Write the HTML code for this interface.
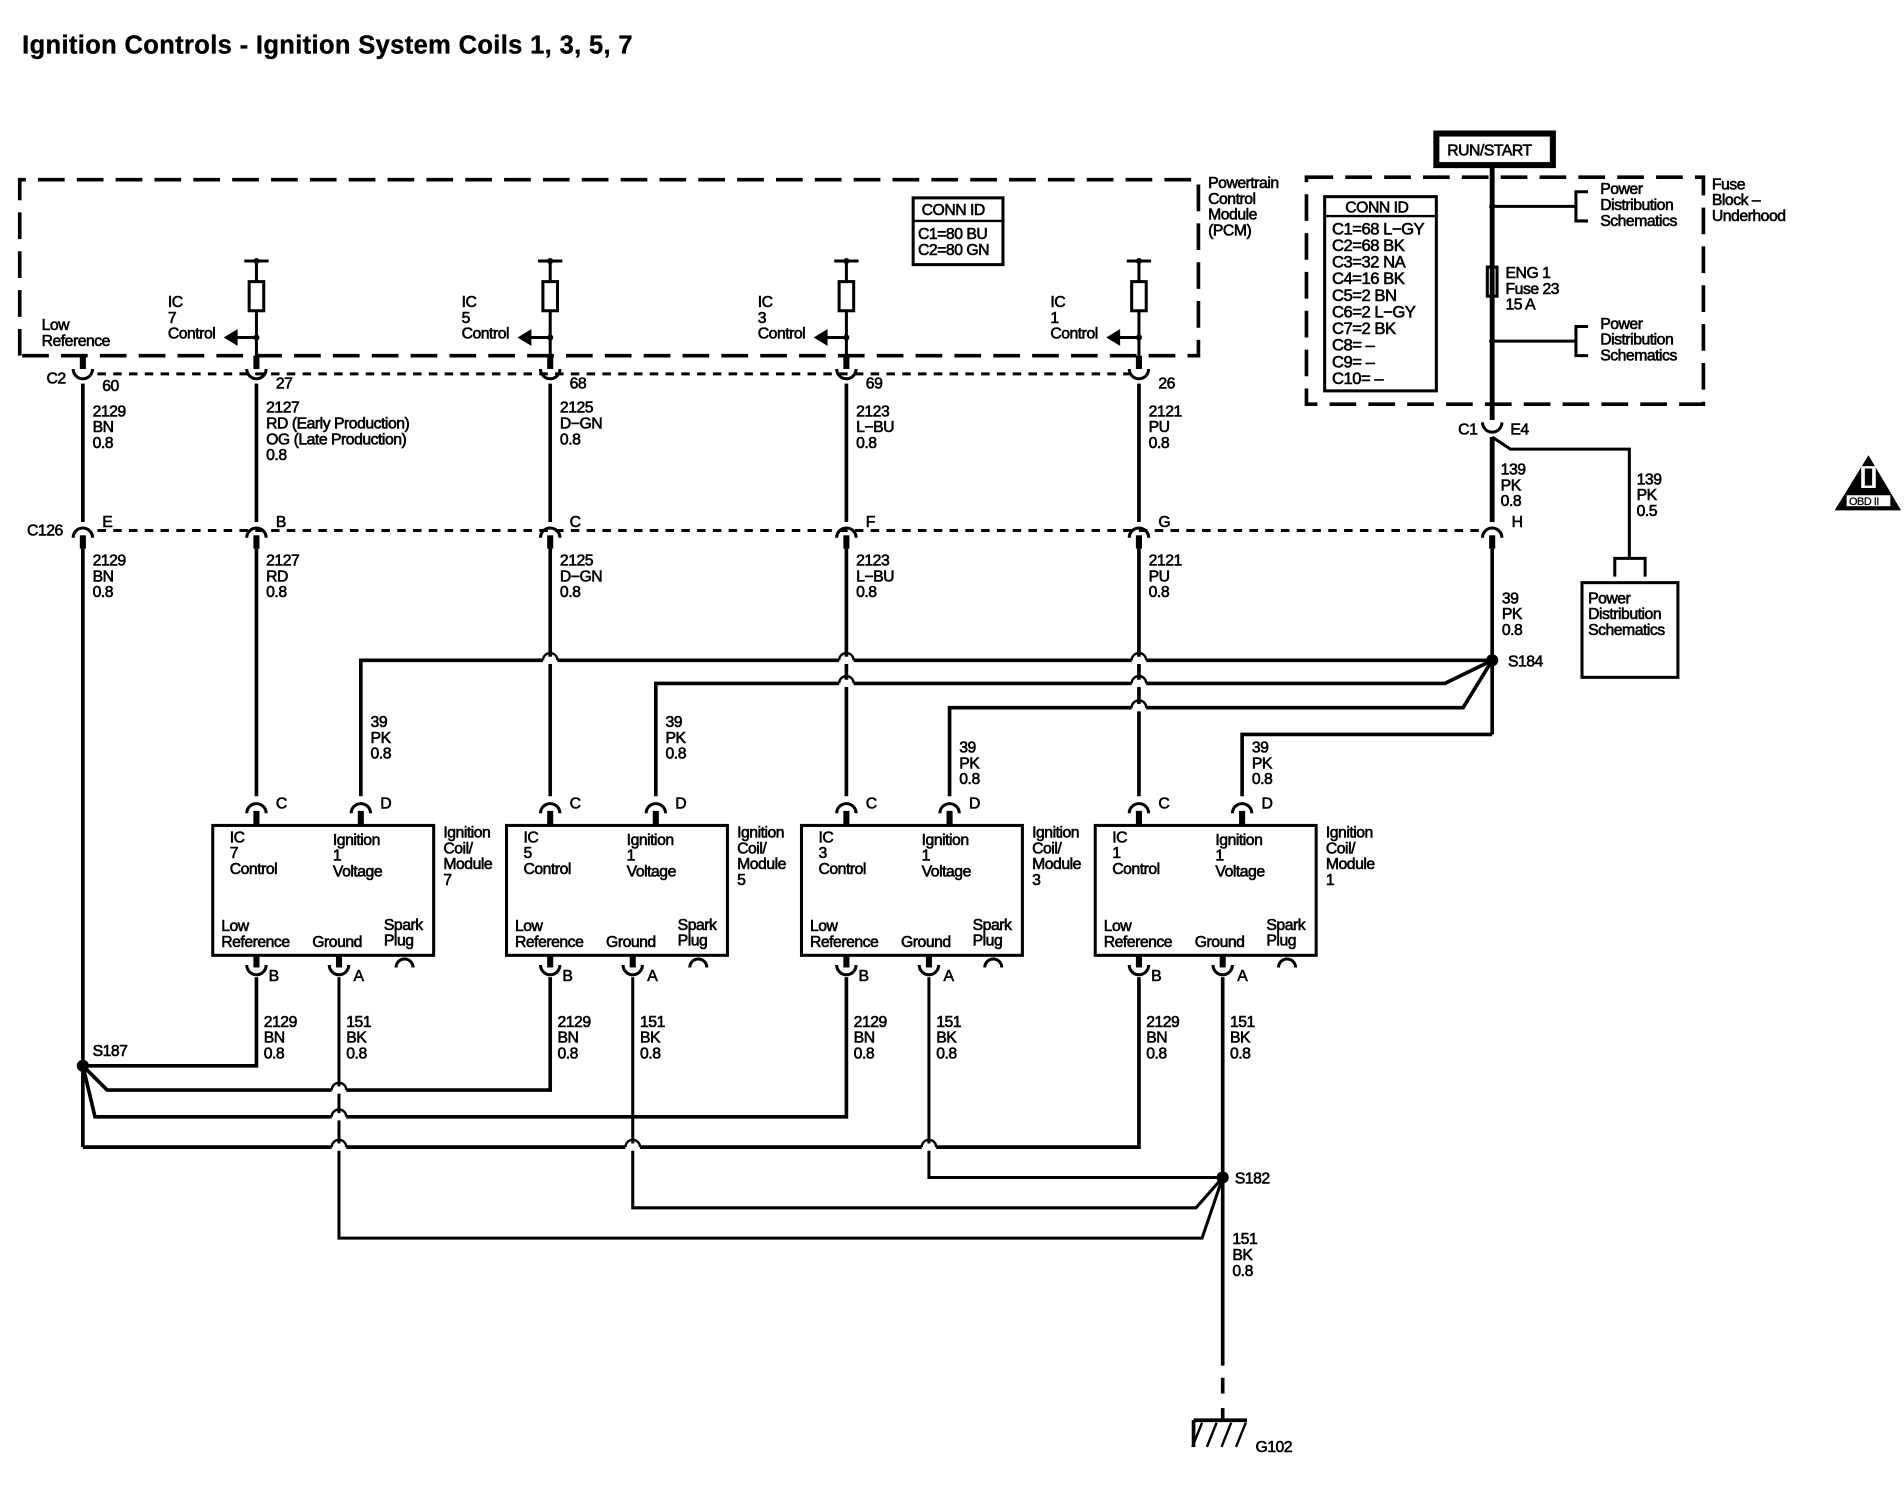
<!DOCTYPE html>
<html><head><meta charset="utf-8"><style>
html,body{margin:0;padding:0;background:#fff;}
svg{display:block;}
text{font-family:"Liberation Sans",Arial,sans-serif;font-size:13px;fill:#000;stroke:#000;stroke-width:0.5;letter-spacing:-0.4px;}
</style></head><body>
<svg id="s" width="1904" height="1504" viewBox="0 0 1568 1239" xmlns="http://www.w3.org/2000/svg"></svg>
<script>
let o='';
const L=(x1,y1,x2,y2,w=3,d='')=>{o+=`<line x1="${x1}" y1="${y1}" x2="${x2}" y2="${y2}" stroke="#000" stroke-width="${w}" ${d?`stroke-dasharray="${d}"`:''}/>`;};
const P=(d,w=3,f='none',da='')=>{o+=`<path d="${d}" stroke="#000" stroke-width="${w}" fill="${f}" ${da?`stroke-dasharray="${da}"`:''}/>`;};
const T=(x,y,lines,sz=13,extra='')=>{lines.split('|').forEach((t,i)=>{o+=`<text x="${x}" y="${y+i*sz}" style="font-size:${sz}px" ${extra}>${t}</text>`;});};
const R=(x,y,w,h,sw=2.5,d='')=>{o+=`<rect x="${x}" y="${y}" width="${w}" height="${h}" fill="none" stroke="#000" stroke-width="${sw}" ${d?`stroke-dasharray="${d}"`:''}/>`;};
const cup=(x,y)=>P(`M${x-8},${y-6} a8,8 0 0 0 16,0`,2.5);
const cap=(x,y)=>P(`M${x-8},${y+6} a8,8 0 0 1 16,0`,2.5);
const dot=(x,y,r=5)=>{o+=`<circle cx="${x}" cy="${y}" r="${r}" fill="#000"/>`;};
const hop=(x,y)=>{o+=`<rect x="${x-6}" y="${y-3}" width="12" height="6" fill="#fff"/>`;P(`M${x-6},${y} a6,6 0 0 1 12,0`,2);};

o+=`<text x="18" y="44" style="font-size:21px;font-weight:bold;stroke-width:0.3;letter-spacing:0.3px">Ignition Controls - Ignition System Coils 1, 3, 5, 7</text>`;

P('M16,293 L16,148 L987,148 L987,293 L16,293',3,'none','22,10');
T(995,155,'Powertrain|Control|Module|(PCM)');
R(752,163,74,55,2.5);L(752,182,826,182,2);
T(759,177,'CONN ID');T(756,197,'C1=80 BU|C2=80 GN');
T(34,272,'Low|Reference');T(38,316,'C2');

const cols=[[211,'7'],[453,'5'],[697,'3'],[938,'1']];
cols.forEach(([x,n])=>{
 L(x-10,215,x+10,215,2.5);dot(x,215,2.5);L(x,215,x,232,2.5);R(x-6,232,12,24,2.5);L(x,256,x,293,2.5);
 dot(x,278,2.5);L(x,278,x-16,278,2.5);P(`M${x-16},272 L${x-26},278 L${x-16},284 Z`,1,'#000');
 T(x-73,253,`IC|${n}|Control`);
});
L(80,308,930,308,2.5,'7,6');
[68,211,453,697,938].forEach(x=>{L(x,293,x,304,5);cup(x,310);});
T(84,322,'60');[[211,'27'],[453,'68'],[697,'69'],[938,'26']].forEach(([x,p])=>T(x+16,320,p));
T(76,343,'2129|BN|0.8');T(219,340,'2127|RD (Early Production)|OG (Late Production)|0.8');
T(461,340,'2125|D−GN|0.8');T(705,343,'2123|L−BU|0.8');T(946,343,'2121|PU|0.8');
[68,211,453,697,938].forEach(x=>{L(x,316,x,430,3);});
L(80,437,1222,437,2.5,'7,6');T(22,441,'C126');
[[68,'E'],[211,'B'],[453,'C'],[697,'F'],[938,'G'],[1229,'H']].forEach(([x,l])=>{cap(x,437);L(x,441,x,452,5);T(x+16,434,l);});
T(76,466,'2129|BN|0.8');T(219,466,'2127|RD|0.8');T(461,466,'2125|D−GN|0.8');T(705,466,'2123|L−BU|0.8');T(946,466,'2121|PU|0.8');
L(68,452,68,945,3);
[211,453,697,938].forEach(x=>L(x,452,x,656,3));

o+='<rect x="1076" y="146" width="327" height="187" fill="none" stroke="#000" stroke-width="3" stroke-dasharray="22,10"/>';
T(1410,156,'Fuse|Block –|Underhood');
R(1183,110,96,26,5);T(1192,128,'RUN/START');
R(1091,162,92,160,2.5);L(1091,178,1183,178,2);T(1108,175,'CONN ID');
T(1097,193,'C1=68 L−GY|C2=68 BK|C3=32 NA|C4=16 BK|C5=2 BN|C6=2 L−GY|C7=2 BK|C8= –|C9= –|C10= –',13.7);
L(1229,136,1229,346,4);
R(1225,220,8,24,2.5);T(1240,229,'ENG 1|Fuse 23|15 A');
[[170,160],[281,271]].forEach(([y,ty])=>{dot(1229,y,2.5);L(1229,y,1298,y,2.5);P(`M1308,${y-12} L1298,${y-12} L1298,${y+12} L1308,${y+12}`,2.5);T(1318,ty,'Power|Distribution|Schematics');});
cup(1229,354);T(1201,358,'C1');T(1244,358,'E4');
L(1229,360,1229,430,4);
P('M1229,360 L1244,370 L1342,370 L1342,460',2.5);
T(1236,391,'139|PK|0.8');T(1348,399,'139|PK|0.5');
P('M1330,475 L1330,460 L1355,460 L1355,475',2.5);
R(1303,480,79,78,2.5);T(1308,497,'Power|Distribution|Schematics');
P('M1539,376 L1565,420 L1512,420 Z',1,'#000');
o+='<rect x="1521" y="408" width="36" height="9" fill="#fff"/><text x="1523" y="416" style="font-size:9px;stroke-width:0.2">OBD II</text>';
o+='<rect x="1533" y="384" width="12" height="18" fill="#fff"/><rect x="1536" y="386" width="6" height="14" fill="#000"/>';

L(1229,452,1229,605,3);T(1237,497,'39|PK|0.8');dot(1229,544,5);T(1242,549,'S184');
P('M297,656 L297,544 L1229,544',3);
P('M540,656 L540,563 L1190,563 L1229,544',3);
P('M782,656 L782,583 L1205,583 L1229,544',3);
P('M1023,656 L1023,605 L1229,605',3);
T(305,599,'39|PK|0.8');T(548,599,'39|PK|0.8');T(790,620,'39|PK|0.8');T(1031,620,'39|PK|0.8');
[453,697,938].forEach(x=>hop(x,544));[697,938].forEach(x=>hop(x,563));hop(938,583);

const coils=[[175,211,297,279,'7'],[417,453,540,521,'5'],[660,697,782,765,'3'],[902,938,1023,1007,'1']];
coils.forEach(([bx,c,d,a,n])=>{
 R(bx,680,182,107,2.5);
 cap(c,664);L(c,668,c,680,5);T(c+16,666,'C');
 cap(d,664);L(d,668,d,680,5);T(d+16,666,'D');
 T(bx+14,694,`IC|${n}|Control`);T(bx+99,696,`Ignition|1|Voltage`);
 T(bx+7,767,'Low|Reference');T(bx+82,780,'Ground');T(bx+141,766,'Spark|Plug');
 P(`M${bx+151},797 a7,7 0 0 1 14,0`,2.5);
 T(bx+190,690,`Ignition|Coil/|Module|${n}`);
 L(c,787,c,797,5);cup(c,801);T(c+10,808,'B');
 L(a,787,a,797,5);cup(a,801);T(a+12,808,'A');
 T(c+6,846,'2129|BN|0.8');T(a+6,846,'151|BK|0.8');
});
dot(68,878,5);T(76,870,'S187');
P('M68,878 L211,878 L211,805',3);
P('M68,878 L88,898 L453,898 L453,805',3);
P('M68,878 L78,920 L697,920 L697,805',3);
P('M68,945 L938,945 L938,805',3);
L(1007,805,1007,1125,3);
dot(1007,970,5);T(1017,975,'S182');
P('M765,805 L765,970 L1007,970',2.5);
P('M521,805 L521,995 L985,995 L1007,970',2.5);
P('M279,805 L279,1020 L990,1020 L1007,970',2.5);
hop(279,898);hop(279,920);hop(279,945);hop(521,945);hop(765,945);
T(1015,1025,'151|BK|0.8');
L(1007,1135,1007,1148,3);
L(1007,1160,1007,1170,3);
L(983,1170,1027,1170,3);L(983,1170,983,1192,3);
[990,1002,1014,1026].forEach(x=>L(x,1172,x-8,1192,2));
T(1034,1196,'G102');

document.getElementById('s').innerHTML=o;
</script>
</body></html>
